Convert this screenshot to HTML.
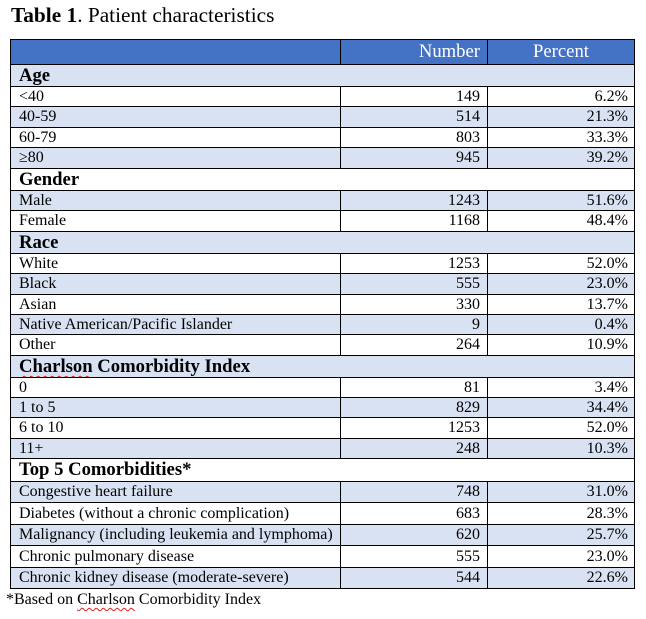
<!DOCTYPE html>
<html>
<head>
<meta charset="utf-8">
<style>
  html, body { margin:0; padding:0; background:#fff; }
  body { width:646px; height:619px; position:relative; overflow:hidden; font-family:"Liberation Serif", "Times New Roman", serif; color:#000; }
  .title { position:absolute; left:11px; top:3px; font-size:21.33px; line-height:24px; white-space:nowrap; }
  .row { position:absolute; left:10px; width:625px; box-sizing:border-box; border-top:1px solid #000; border-left:1px solid #000; border-right:1px solid #000; }
  .b { background:#D9E2F3; }
  .w { background:#fff; }
  .hdr { background:#4472C4; color:#fff; }
  .c1, .c2, .c3 { position:absolute; top:0; bottom:0; white-space:nowrap; font-size:16px; }
  .c1 { left:8px; }
  .c2 { left:329px; width:147px; box-sizing:border-box; border-left:1px solid #000; text-align:right; padding-right:7px; }
  .c3 { left:476px; width:147px; box-sizing:border-box; border-left:1px solid #000; text-align:right; padding-right:6px; }
  .sec .c1 { font-weight:bold; font-size:18.67px; left:8px; }
  .hdr .c2, .hdr .c3 { font-size:18.67px; }
  .hdr .c3 { text-align:center; padding-right:0; }
  .sq { text-decoration: underline wavy #e02020; text-decoration-thickness:1px; text-underline-offset:3px; }
  .foot { position:absolute; left:6px; top:590px; font-size:16px; line-height:20px; white-space:nowrap; }
  .bottom { position:absolute; left:10px; width:625px; top:588px; height:1px; background:#000; }
</style>
</head>
<body>
<div class="title"><b>Table 1</b>. Patient characteristics</div>

<div class="row hdr" style="top:39px;height:25px;line-height:24px;"><span class="c2">Number</span><span class="c3">Percent</span></div>

<div class="row b sec" style="top:64px;height:22px;line-height:21px;"><span class="c1">Age</span></div>
<div class="row w" style="top:86px;height:20px;line-height:19px;"><span class="c1">&lt;40</span><span class="c2">149</span><span class="c3">6.2%</span></div>
<div class="row b" style="top:106px;height:21px;line-height:20px;"><span class="c1">40-59</span><span class="c2">514</span><span class="c3">21.3%</span></div>
<div class="row w" style="top:127px;height:20px;line-height:19px;"><span class="c1">60-79</span><span class="c2">803</span><span class="c3">33.3%</span></div>
<div class="row b" style="top:147px;height:21px;line-height:20px;"><span class="c1">≥80</span><span class="c2">945</span><span class="c3">39.2%</span></div>

<div class="row w sec" style="top:168px;height:22px;line-height:21px;"><span class="c1">Gender</span></div>
<div class="row b" style="top:190px;height:20px;line-height:19px;"><span class="c1">Male</span><span class="c2">1243</span><span class="c3">51.6%</span></div>
<div class="row w" style="top:210px;height:21px;line-height:20px;"><span class="c1">Female</span><span class="c2">1168</span><span class="c3">48.4%</span></div>

<div class="row b sec" style="top:231px;height:22px;line-height:21px;"><span class="c1">Race</span></div>
<div class="row w" style="top:253px;height:20px;line-height:19px;"><span class="c1">White</span><span class="c2">1253</span><span class="c3">52.0%</span></div>
<div class="row b" style="top:273px;height:21px;line-height:20px;"><span class="c1">Black</span><span class="c2">555</span><span class="c3">23.0%</span></div>
<div class="row w" style="top:294px;height:20px;line-height:19px;"><span class="c1">Asian</span><span class="c2">330</span><span class="c3">13.7%</span></div>
<div class="row b" style="top:314px;height:20px;line-height:19px;"><span class="c1">Native American/Pacific Islander</span><span class="c2">9</span><span class="c3">0.4%</span></div>
<div class="row w" style="top:334px;height:21px;line-height:20px;"><span class="c1">Other</span><span class="c2">264</span><span class="c3">10.9%</span></div>

<div class="row b sec" style="top:355px;height:22px;line-height:21px;"><span class="c1"><span class="sq">Charlson</span> Comorbidity Index</span></div>
<div class="row w" style="top:377px;height:20px;line-height:19px;"><span class="c1">0</span><span class="c2">81</span><span class="c3">3.4%</span></div>
<div class="row b" style="top:397px;height:20px;line-height:19px;"><span class="c1">1 to 5</span><span class="c2">829</span><span class="c3">34.4%</span></div>
<div class="row w" style="top:417px;height:21px;line-height:20px;"><span class="c1">6 to 10</span><span class="c2">1253</span><span class="c3">52.0%</span></div>
<div class="row b" style="top:438px;height:20px;line-height:19px;"><span class="c1">11+</span><span class="c2">248</span><span class="c3">10.3%</span></div>

<div class="row w sec" style="top:458px;height:23px;line-height:22px;"><span class="c1">Top 5 Comorbidities*</span></div>
<div class="row b" style="top:481px;height:21px;line-height:20px;"><span class="c1">Congestive heart failure</span><span class="c2">748</span><span class="c3">31.0%</span></div>
<div class="row w" style="top:502px;height:22px;line-height:21px;"><span class="c1">Diabetes (without a chronic complication)</span><span class="c2">683</span><span class="c3">28.3%</span></div>
<div class="row b" style="top:524px;height:21px;line-height:20px;"><span class="c1">Malignancy (including leukemia and lymphoma)</span><span class="c2">620</span><span class="c3">25.7%</span></div>
<div class="row w" style="top:545px;height:22px;line-height:21px;"><span class="c1">Chronic pulmonary disease</span><span class="c2">555</span><span class="c3">23.0%</span></div>
<div class="row b" style="top:567px;height:21px;line-height:20px;"><span class="c1">Chronic kidney disease (moderate-severe)</span><span class="c2">544</span><span class="c3">22.6%</span></div>
<div class="bottom"></div>

<div class="foot">*Based on <span class="sq">Charlson</span> Comorbidity Index</div>
</body>
</html>
